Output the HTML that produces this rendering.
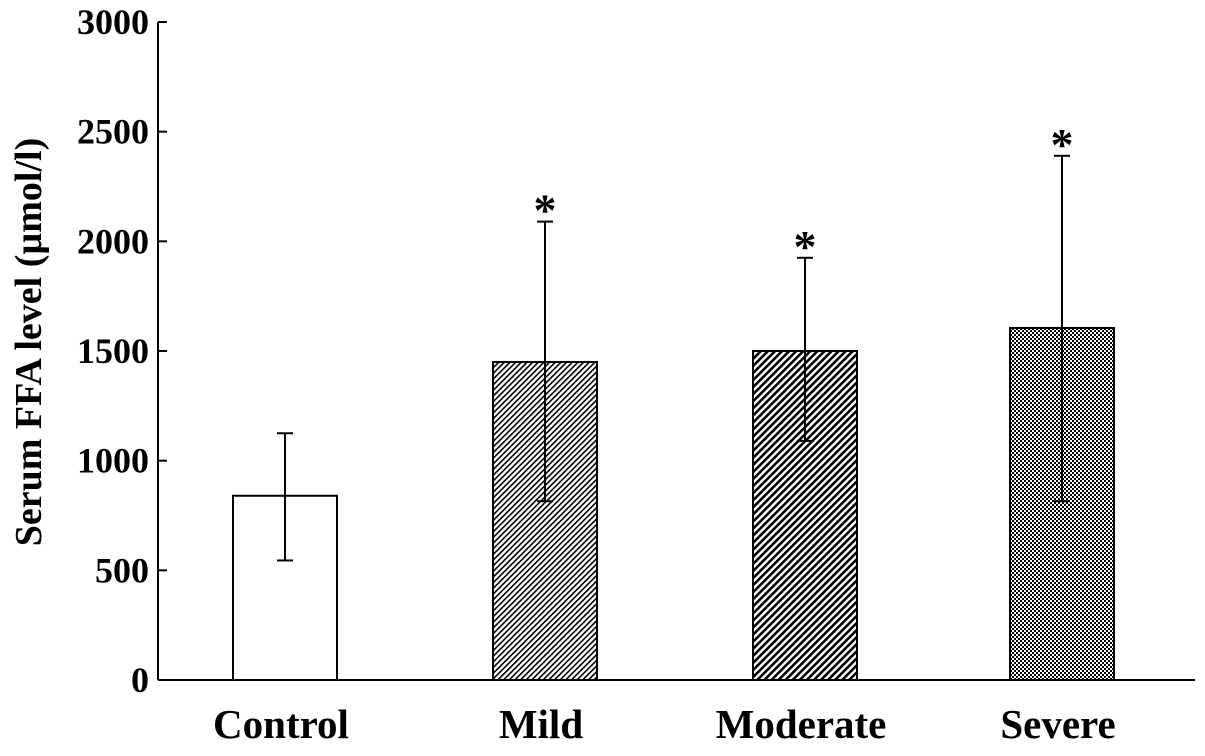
<!DOCTYPE html>
<html><head><meta charset="utf-8"><style>
body{margin:0;background:#fff;}
svg text{font-family:"Liberation Serif",serif;font-weight:bold;fill:#000;}
</style></head><body>
<svg id="chart" width="1205" height="751" viewBox="0 0 1205 751" xmlns="http://www.w3.org/2000/svg">
<defs>
<pattern id="pMild" patternUnits="userSpaceOnUse" width="4" height="4" patternTransform="rotate(45)">
<rect width="4" height="4" fill="#fff"/><rect width="1.6" height="4" fill="#000"/></pattern>
<pattern id="pMod" patternUnits="userSpaceOnUse" width="5" height="5" patternTransform="rotate(45)">
<rect width="5" height="5" fill="#fff"/><rect width="2.6" height="5" fill="#000"/></pattern>
<pattern id="pSev" patternUnits="userSpaceOnUse" width="4" height="4">
<rect width="4" height="4" fill="#fff"/><rect width="2" height="2" fill="#000"/><rect x="2" y="2" width="2" height="2" fill="#000"/></pattern>
</defs>
<g id="axes"></g>
<g id="bars"></g>
</svg>
<script>
const categories = ["Control","Mild","Moderate","Severe"];
const means = [840, 1450, 1500, 1605];
const upperErr = [1125, 2090, 1925, 2390];
const lowerErr = [545, 815, 1090, 815];
const significant = [false, true, true, true];
const yTicks = [0,500,1000,1500,2000,2500,3000];
const fills = ["#fff","url(#pMild)","url(#pMod)","url(#pSev)"];

const NS="http://www.w3.org/2000/svg";
const y0=680, yTop=22, xLeft=158, xRight=1195;
const y = v => y0 - (v/3000)*(y0-yTop);
const centers=[285,545,805,1062], barW=104;
const x = i => centers[i];
function mk(tag, attrs, parent){const e=document.createElementNS(NS,tag);for(const k in attrs)e.setAttribute(k,attrs[k]);parent.appendChild(e);return e;}
const axes=document.getElementById('axes'), bars=document.getElementById('bars');

let yl=mk('line',{x1:xLeft,y1:yTop,x2:xLeft,y2:y0,stroke:'#000','stroke-width':2},axes);


let xl=mk('line',{x1:xLeft,y1:y0,x2:xRight,y2:y0,stroke:'#000','stroke-width':2},axes);


yTicks.forEach(t=>{
  let tk=mk('line',{x1:xLeft,y1:y(t),x2:xLeft+9,y2:y(t),stroke:'#000','stroke-width':2},axes);
  
  
  let tl=mk('text',{x:xLeft-9,y:y(t)+12,'text-anchor':'end','font-size':36},axes);
  tl.textContent=t;
  
  
});
let yt=mk('text',{x:0,y:0,'text-anchor':'middle','font-size':38,transform:'translate(41,342) rotate(-90)'},axes);
yt.textContent='Serum FFA level (µmol/l)';



categories.forEach((c,i)=>{
  let r=mk('rect',{x:x(i)-barW/2,y:y(means[i]),width:barW,height:y0-y(means[i]),fill:fills[i],stroke:'#000','stroke-width':2},bars);
  
  
  let e=mk('line',{x1:x(i),y1:y(upperErr[i]),x2:x(i),y2:y(lowerErr[i]),stroke:'#000','stroke-width':2},bars);
  
  
  [upperErr[i],lowerErr[i]].forEach(v=>{
    let cap=mk('line',{x1:x(i)-8,y1:y(v),x2:x(i)+8,y2:y(v),stroke:'#000','stroke-width':2},bars);
    
    
  });
  if(significant[i]){
    let s=mk('text',{x:x(i),y:y(upperErr[i])+4,'text-anchor':'middle','font-size':46},bars);
    s.textContent='*';
    
    
  }
  let cl=mk('text',{x:x(i)-4,y:738,'text-anchor':'middle','font-size':41},axes);
  cl.textContent=c;
  
  
});
</script>
</body></html>
